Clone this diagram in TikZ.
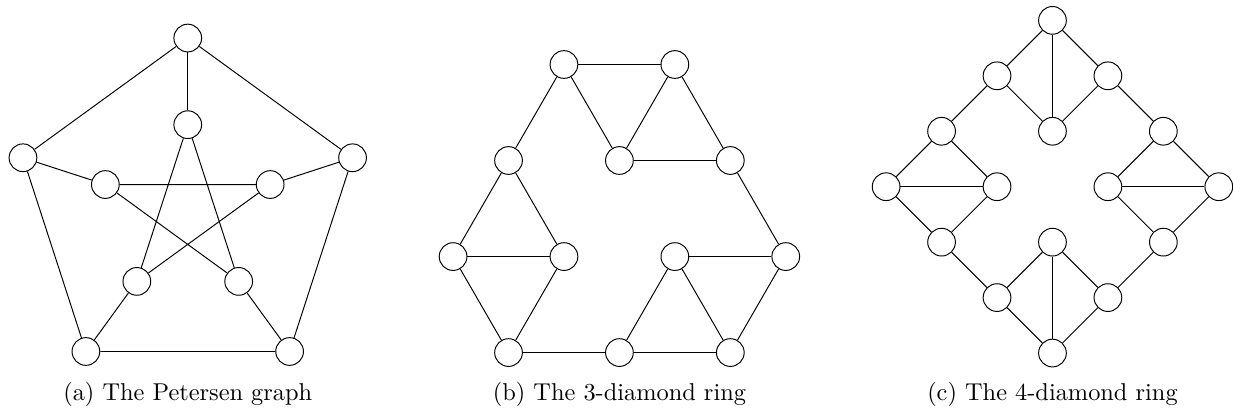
\documentclass[tikz,border=0pt]{standalone}
\usepackage{tikz}
\usetikzlibrary{positioning}
\tikzset{vertex/.style={circle, draw, fill=white, minimum size=0.4cm, inner sep=0pt}}

\begin{document}
\begin{tikzpicture}
    \useasboundingbox (0,0) rectangle (17.79,5.96);

    % (a) Đồ thị Petersen: ngũ giác ngoài bán kính 2.5, ngôi sao trong bán kính 1.25
    \begin{scope}[shift={(2.709,2.911)}]
        \node[vertex] (o1) at (90:2.5) {};
        \node[vertex] (o2) at (162:2.5) {};
        \node[vertex] (o3) at (234:2.5) {};
        \node[vertex] (o4) at (306:2.5) {};
        \node[vertex] (o5) at (18:2.5) {};
        \node[vertex] (i1) at (90:1.25) {};
        \node[vertex] (i2) at (162:1.25) {};
        \node[vertex] (i3) at (234:1.25) {};
        \node[vertex] (i4) at (306:1.25) {};
        \node[vertex] (i5) at (18:1.25) {};
        % Chu trình ngoài
        \draw (o1) -- (o2) -- (o3) -- (o4) -- (o5) -- (o1);
        % Các cạnh nối trong - ngoài
        \draw (o1) -- (i1);
        \draw (o2) -- (i2);
        \draw (o3) -- (i3);
        \draw (o4) -- (i4);
        \draw (o5) -- (i5);
        % Ngôi sao bên trong
        \draw (i1) -- (i3) -- (i5) -- (i2) -- (i4) -- (i1);
    \end{scope}
    \node[anchor=base] (capa) at (2.709,0.18) {(a) The Petersen graph};

    % (b) Vòng 3 hình thoi
    \node[vertex] (t1) at (8.137,5.029) {};
    \node[vertex] (t2) at (9.737,5.029) {};
    \node[vertex] (u1) at (7.337,3.644) {};
    \node[vertex] (u2) at (8.937,3.644) {};
    \node[vertex] (u3) at (10.537,3.644) {};
    \node[vertex] (m1) at (6.537,2.258) {};
    \node[vertex] (m2) at (8.137,2.258) {};
    \node[vertex] (m3) at (9.737,2.258) {};
    \node[vertex] (m4) at (11.337,2.258) {};
    \node[vertex] (d1) at (7.337,0.873) {};
    \node[vertex] (d2) at (8.937,0.873) {};
    \node[vertex] (d3) at (10.537,0.873) {};
    % Hình thoi trên
    \draw (t1) -- (t2);
    \draw (t1) -- (u2) -- (t2);
    \draw (u2) -- (u3);
    \draw (t1) -- (u1);
    \draw (t2) -- (u3);
    % Hình thoi trái
    \draw (u1) -- (m1) -- (d1);
    \draw (u1) -- (m2) -- (d1);
    \draw (m1) -- (m2);
    % Hình thoi phải
    \draw (u3) -- (m4) -- (d3);
    \draw (d2) -- (m3) -- (d3);
    \draw (m3) -- (m4);
    % Cạnh dưới
    \draw (d1) -- (d2) -- (d3);
    \node[anchor=base] (capb) at (8.937,0.18) {(b) The 3-diamond ring};

    % (c) Vòng 4 hình thoi, lưới bước 0.8
    \node[vertex] (n) at (15.185,5.666) {};
    \node[vertex] (nw) at (14.385,4.866) {};
    \node[vertex] (ne) at (15.985,4.866) {};
    \node[vertex] (wn) at (13.585,4.066) {};
    \node[vertex] (ni) at (15.185,4.066) {};
    \node[vertex] (en) at (16.785,4.066) {};
    \node[vertex] (w) at (12.785,3.266) {};
    \node[vertex] (wi) at (14.385,3.266) {};
    \node[vertex] (ei) at (15.985,3.266) {};
    \node[vertex] (e) at (17.585,3.266) {};
    \node[vertex] (ws) at (13.585,2.466) {};
    \node[vertex] (si) at (15.185,2.466) {};
    \node[vertex] (es) at (16.785,2.466) {};
    \node[vertex] (sw) at (14.385,1.666) {};
    \node[vertex] (se) at (15.985,1.666) {};
    \node[vertex] (s) at (15.185,0.866) {};
    % Hình thoi trên
    \draw (nw) -- (n) -- (ne);
    \draw (nw) -- (ni) -- (ne);
    \draw (n) -- (ni);
    % Hình thoi trái
    \draw (wn) -- (w) -- (ws);
    \draw (wn) -- (wi) -- (ws);
    \draw (w) -- (wi);
    % Hình thoi phải
    \draw (en) -- (e) -- (es);
    \draw (en) -- (ei) -- (es);
    \draw (ei) -- (e);
    % Hình thoi dưới
    \draw (sw) -- (s) -- (se);
    \draw (sw) -- (si) -- (se);
    \draw (si) -- (s);
    % Các cạnh nối giữa các hình thoi
    \draw (nw) -- (wn);
    \draw (ne) -- (en);
    \draw (ws) -- (sw);
    \draw (es) -- (se);
    \node[anchor=base] (capc) at (15.185,0.18) {(c) The 4-diamond ring};
\end{tikzpicture}
\end{document}
